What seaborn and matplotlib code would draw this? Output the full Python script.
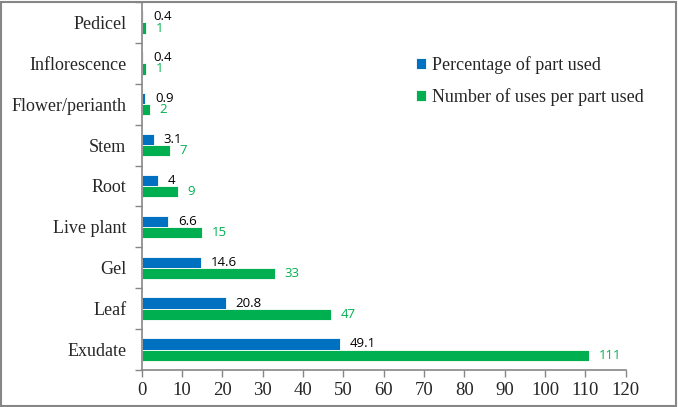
import matplotlib
matplotlib.use("Agg")
import matplotlib.pyplot as plt
import pandas as pd
import seaborn as sns
from matplotlib.patches import Rectangle
from matplotlib.ticker import FixedLocator

parts = ["Pedicel", "Inflorescence", "Flower/perianth", "Stem", "Root",
         "Live plant", "Gel", "Leaf", "Exudate"]
percentage = [0.4, 0.4, 0.9, 3.1, 4, 6.6, 14.6, 20.8, 49.1]
uses = [1, 1, 2, 7, 9, 15, 33, 47, 111]
series = ["Percentage of part used", "Number of uses per part used"]

df = pd.DataFrame({
    "Part": parts * 2,
    "Value": percentage + uses,
    "Series": [series[0]] * len(parts) + [series[1]] * len(parts),
})

sns.set_style("white")
plt.rcParams["font.family"] = "serif"
plt.rcParams["font.serif"] = ["Liberation Serif", "DejaVu Serif"]

fig = plt.figure(figsize=(6.78, 4.07), dpi=100)
ax = fig.add_axes([0.209, 0.091, 0.714, 0.904])

sns.barplot(data=df, y="Part", x="Value", hue="Series", order=parts,
            hue_order=series, palette=["#0070C0", "#00B050"], saturation=1,
            orient="h", width=0.55, dodge=True, edgecolor="white",
            linewidth=0.6, ax=ax)

ax.set_xlim(0, 120)
ax.set_xticks(range(0, 121, 10))
ax.set_ylim(len(parts) - 0.5, -0.5)
ax.set_xlabel("")
ax.set_ylabel("")

for lab in ax.get_xticklabels():
    lab.set_fontsize(13.5)
for lab in ax.get_yticklabels():
    lab.set_fontsize(13)

# Excel style: category ticks between groups
ax.yaxis.set_minor_locator(FixedLocator([i - 0.5 for i in range(len(parts) + 1)]))
ax.tick_params(axis="y", which="major", length=0, pad=11)
ax.tick_params(axis="y", which="minor", length=5, color="#868686", width=1, left=True)
ax.tick_params(axis="x", which="major", length=5, color="#868686", width=1, bottom=True, pad=4)

for s in ["top", "right"]:
    ax.spines[s].set_visible(False)
for s in ["left", "bottom"]:
    ax.spines[s].set_color("#868686")
    ax.spines[s].set_linewidth(1.2)

num_font = ["Open Sans", "DejaVu Sans"]
ax.bar_label(ax.containers[0], labels=[f"{v:g}" for v in percentage], padding=7,
             color="black", fontsize=9.5, fontfamily=num_font)
ax.bar_label(ax.containers[1], labels=[f"{v:g}" for v in uses], padding=7,
             color="#00B050", fontsize=9.5, fontfamily=num_font)

ax.legend(loc="center left", bbox_to_anchor=(0.533, 0.785), frameon=False,
          prop={"size": 13}, handlelength=0.55, handleheight=0.55,
          handletextpad=0.35, labelspacing=0.8)

fig.patches.append(Rectangle((0.002, 0.003), 0.995, 0.993, transform=fig.transFigure,
                             fill=False, edgecolor="#868686", linewidth=1.5))

fig.savefig("out.png", dpi=100)
